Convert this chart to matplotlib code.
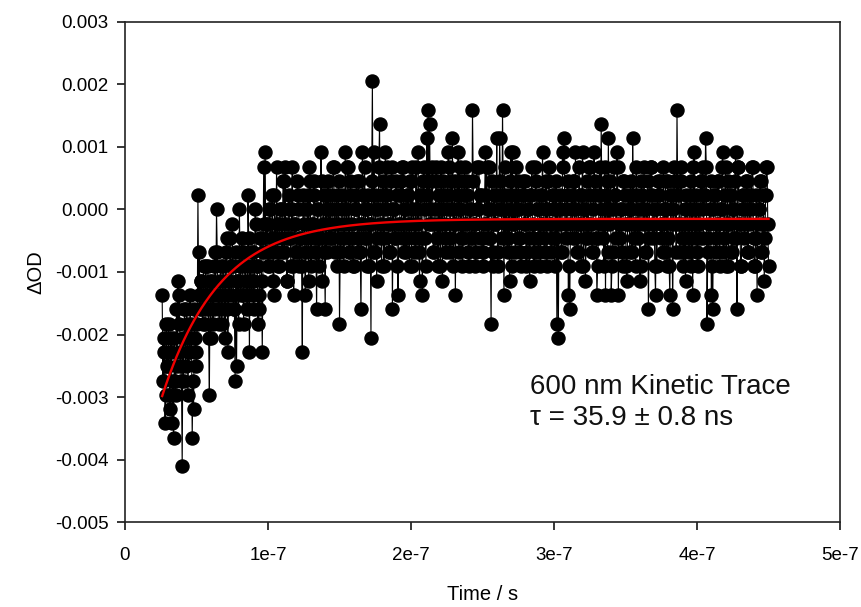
import numpy as np
import matplotlib
matplotlib.use("Agg")
import matplotlib.pyplot as plt

plt.rcParams['font.family'] = ['Liberation Sans', 'DejaVu Sans']

# ---- data ----
# time sampling of the trace (s): samples every 0.5 ns from 26 ns
t_start = 26e-9
t_step = 0.5e-9
# dOD values in units of the digitiser step (quantised levels)
dod_per_count = 0.000228
# samples on whole nanoseconds (26, 27, ... 450 ns)
dod_counts_even = [
    # t = 26 .. 52 ns
    -6, -10, -15, -8, -11, -13, -9, -15, -16, -12,
    -7, -5, -6, -11, -18, -12, -9, -7, -13, -10,
    -8, -16, -14, -9, -11, 1, -3,
    # t = 53 .. 98 ns
    -5, -7, -4, -8, -6, -4, -13, -9, -5, -7,
    -3, 0, -6, -8, -4, -7, -5, -9, -2, -10,
    -6, -4, -1, -7, -12, -11, -5, 0, -6, -3,
    -8, -4, -6, 1, -10, -5, -3, -7, 0, -4,
    -8, -7, -2, -10, 3, 4,
    # t = 99 .. 143 ns
    -1, -4, 0, -3, 1, -6, -2, 3, -4, -1,
    0, -3, 2, 3, -5, -2, 0, -4, 3, -6,
    -1, -3, 1, -4, -2, -10, 0, -6, -2, 1,
    3, -4, -1, 2, -3, -7, 0, -2, 4, -5,
    1, -7, -3, 2, -1,
    # t = 144 .. 266 ns
    -2, 0, 3, -3, 1, -1, -8, -2, 0, -4,
    4, -1, 3, -3, 1, -2, -4, 0, 2, -3,
    -1, -7, 4, -2, 0, -4, 1, -1, -9, 9,
    4, -3, -5, 0, 6, -2, 1, -4, 4, 3,
    -1, -3, 2, -7, 0, -2, 1, -6, -1, 2,
    3, -3, 0, -2, 1, -4, 2, 3, -1, -3,
    0, 4, -5, 1, -6, 3, -2, 5, 7, 6,
    -1, 3, -3, 0, 2, -4, -1, 3, -5, 1,
    -2, 0, 4, -3, 2, 5, -1, -6, 0, 4,
    3, -2, -4, 1, -1, 2, -3, 0, -2, 7,
    -1, -4, 3, 0, -2, 1, -3, -1, 4, 3,
    -2, 0, -8, -4, 1, -1, 5, -3, 5, 0,
    7, -6, -2,
    # t = 267 .. 388 ns
    1, -2, -5, 4, 4, -1, -3, 0, 2, -2,
    -4, 1, -1, 2, -3, 0, -5, 1, -2, -4,
    3, 0, -3, 1, -1, 4, -2, 0, -4, 2,
    -1, -3, 1, 0, -2, -8, -9, 0, -3, 4,
    5, -1, 1, -6, -7, 0, -2, 2, 4, -3,
    -1, 1, -4, 4, 0, -5, 2, -2, 3, -1,
    -3, 4, 1, -6, -2, 3, 6, -1, -4, -6,
    2, 5, 0, -6, -3, 3, 1, 4, -6, -2,
    0, -4, 2, -1, -5, 1, -3, 0, 5, -2,
    -4, 1, -1, -5, 2, 0, 3, -3, -1, -7,
    1, 3, -2, 0, -6, -4, 1, 2, -1, -3,
    0, 2, -4, -2, -6, 1, -7, 3, -1, 7,
    2, -3,
    # t = 389 .. 450 ns
    2, -1, -3, -5, 0, -2, 1, -4, -6, 4,
    -1, -3, 0, -2, 2, 3, 1, 5, -8, -2,
    0, -6, -7, 1, -3, -1, 2, -4, 0, 4,
    -2, 3, -1, -4, 1, -3, 0, -2, 4, -7,
    3, -1, -4, 1, -2, 0, 2, -3, -1, 1,
    3, -4, -2, -6, 0, 2, -3, -1, -5, 1,
    3, -4,
]
# samples on the half nanoseconds (26.5, 27.5, ... 449.5 ns)
dod_counts_odd = [
    # t = 26.5 .. 51.5 ns
    -12, -9, -13, -11, -8, -14, -10, -12, -9, -13,
    -11, -8, -10, -12, -9, -7, -11, -8, -10, -6,
    -9, -12, -7, -10, -8, -6,
    # t = 52.5 .. 97.5 ns
    -7, -5, -8, -6, -4, -7, -9, -5, -6, -8,
    -4, -6, -3, -7, -5, -8, -4, -6, -3, -7,
    -5, -2, -6, -4, -7, -3, -5, -8, -4, -2,
    -6, -3, -5, -7, -2, -4, -6, -3, -5, -1,
    -4, -6, -2, -5, -3, -1,
    # t = 98.5 .. 142.5 ns
    -3, -1, -4, 0, -2, -5, 1, -3, -1, -4,
    0, -2, 2, -3, -1, -5, 1, -2, 0, -4,
    -1, -3, 2, 0, -2, -4, 1, -1, -3, 0,
    -5, 2, -2, -1, 1, -3, 0, -4, -2, 2,
    -1, -3, 1, 0, -2,
    # t = 143.5 .. 449.5 ns
    1, -2, 3, -1, 0, -4, 2, -3, 1, -1,
    -2, 0, 3, -3, 2, -1, -4, 1, 0, -2,
    2, -3, -1, 1, 3, -2, 0, -4, -1, 2,
    -3, 1, 0, -2, 3, -1, -4, 2, -2, 0,
    1, -3, -1, 3, 0, -2, 2, -4, -1, 1,
    -2, 3, 0, -3, 1, -1, 2, -4, 0, -2,
    3, -1, -3, 1, -2, 2, 0, -4, 1, -1,
    0, 2, -3, -1, 3, -2, 1, -4, 0, 2,
    -1, -3, 1, 3, -2, 0, -4, 2, -1, 1,
    -3, 0, 2, -2, 3, -1, 1, -4, 0, -2,
    2, -1, -3, 0, 3, 1, -2, -4, 1, -1,
    0, 3, -2, 2, -3, -1, 1, -4, 0, 2,
    -2, 1, 3, -1, -3, 0, 2, -4, -1, 1,
    3, -2, 0, -3, 1, 2, -1, -4, 0, -2,
    1, 3, -1, -3, 2, 0, -2, -4, 1, -1,
    -3, 2, 0, 3, -1, -2, 1, -4, 2, 0,
    -1, 1, -3, 3, 0, -2, 2, -4, -1, 1,
    2, -2, 0, -3, 3, -1, 1, -4, 0, -2,
    -1, 3, 1, -3, 0, 2, -2, -4, 1, -1,
    0, -2, 3, 1, -3, -1, 2, -4, 0, 1,
    -2, 3, -1, 0, -3, 2, 1, -4, -1, 0,
    2, -3, 1, -1, 3, -2, 0, -4, 1, -1,
    -3, 0, 2, -2, 3, 1, -1, -4, 0, 2,
    1, -2, -1, 3, -3, 0, 2, -4, 1, -1,
    0, 2, -3, 1, -1, 3, -2, -4, 0, 1,
    -1, -3, 2, 0, 3, -2, 1, -4, -1, 2,
    0, -2, 1, 3, -3, -1, 2, -4, 0, 1,
    -2, 2, -1, 0, 3, -3, 1, -4, 2, -1,
    1, -3, 0, 2, -2, 3, -1, -4, 0, 1,
    -1, 2, -3, 1, 0, 3, -2, -4, 1, -1,
    0, 2, -3, 1, -2, 3, -1,
]

# single-exponential fit shown in red
fit_amp = -0.00543
fit_tau = 40e-9
fit_offset = -0.00015

x_ticks = [0, 1e-7, 2e-7, 3e-7, 4e-7, 5e-7]
x_tick_labels = ["0", "1e-7", "2e-7", "3e-7", "4e-7", "5e-7"]
y_ticks = [-0.005, -0.004, -0.003, -0.002, -0.001, 0.0, 0.001, 0.002, 0.003]
y_tick_labels = ["-0.005", "-0.004", "-0.003", "-0.002", "-0.001",
                 "0.000", "0.001", "0.002", "0.003"]

# ---- build ----
n = len(dod_counts_even) + len(dod_counts_odd)
counts = np.empty(n)
counts[0::2] = dod_counts_even
counts[1::2] = dod_counts_odd
dod = counts * dod_per_count
t = t_start + t_step * np.arange(n)
fit = fit_offset + fit_amp * np.exp(-t / fit_tau)

fig = plt.figure(figsize=(8.62, 6.07), dpi=100)
ax = fig.add_axes([0.145, 0.140, 0.8295, 0.8238])

ax.plot(t, dod, color='black', lw=0.8, marker='o', ms=9.4,
        markerfacecolor='black', markeredgecolor='black', zorder=2)
ax.plot(t, fit, color='#f00000', lw=1.7, zorder=3)

ax.set_xlim(0, 5e-7)
ax.set_ylim(-0.005, 0.003)
ax.set_xticks(x_ticks)
ax.set_xticklabels(x_tick_labels)
ax.set_yticks(y_ticks)
ax.set_yticklabels(y_tick_labels)

ax.tick_params(axis='both', direction='out', length=6, width=1.1,
               labelsize=13.5, top=False, right=False, colors='black')
ax.tick_params(axis='x', pad=12)
ax.tick_params(axis='y', pad=6)
for s in ax.spines.values():
    s.set_linewidth(1.2)
    s.set_color('#222222')

ax.set_xlabel('Time / s', fontsize=14.5)
ax.xaxis.set_label_coords(0.5, -0.144)
ax.xaxis.label.set_verticalalignment('center')
ax.set_ylabel('ΔOD', fontsize=14.5)
ax.yaxis.set_label_coords(-0.124, 0.5)
ax.yaxis.label.set_verticalalignment('center')

ax.text(0.566, 0.27, '600 nm Kinetic Trace', transform=ax.transAxes,
        fontsize=20, ha='left', va='center', color='#111111')
ax.text(0.566, 0.208, 'τ = 35.9 ± 0.8 ns', transform=ax.transAxes,
        fontsize=20, ha='left', va='center', color='#111111')

fig.savefig('out.png', dpi=100)
